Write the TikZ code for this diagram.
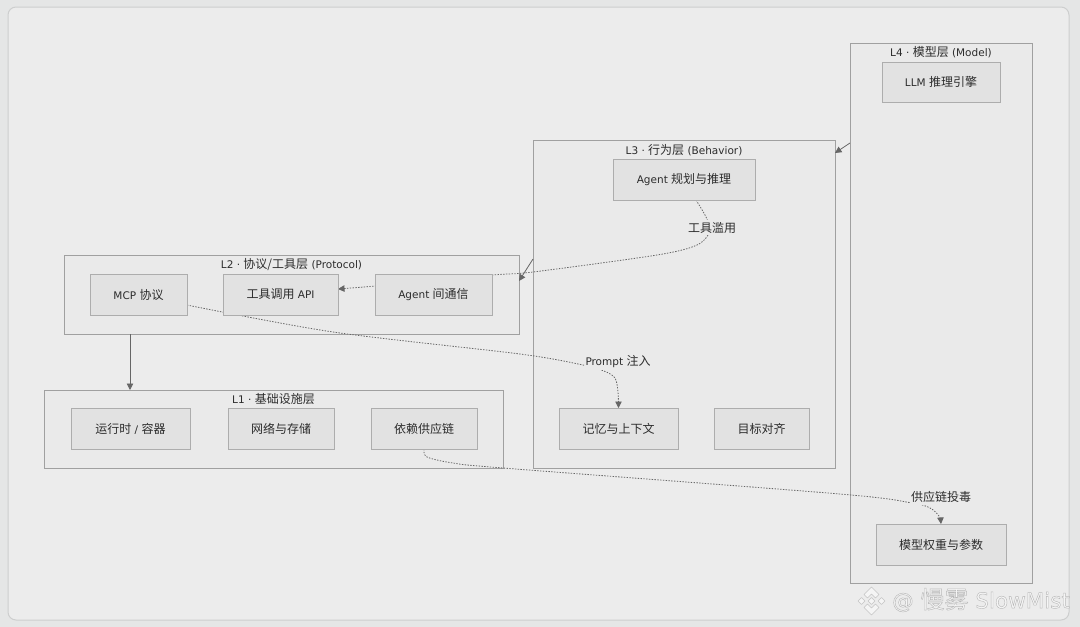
\documentclass[tikz,border=0pt]{standalone}
\usepackage{fontspec}
\setmainfont{DejaVu Sans}
\newfontfamily\cjk{Noto Sans CJK SC}
\newcommand{\zh}[1]{{\cjk\fontsize{12}{12}\selectfont #1}}
\usetikzlibrary{arrows.meta,calc}
\definecolor{pagebg}{HTML}{E5E6E6}
\definecolor{panelbg}{HTML}{ECECEC}
\definecolor{panelln}{HTML}{CDCECE}
\definecolor{clusterbg}{HTML}{EAEAEA}
\definecolor{boxbg}{HTML}{E2E2E2}
\definecolor{lineclr}{HTML}{A0A0A0}
\definecolor{boxln}{HTML}{ADADAD}
\definecolor{txt}{HTML}{2C2C2C}
\definecolor{edgeclr}{HTML}{666666}
\definecolor{wmfill}{HTML}{F5F5F5}
\definecolor{wmedge}{HTML}{C4C4C4}
\pgfdeclarelayer{frames}
\pgfdeclarelayer{edges}
\pgfsetlayers{frames,edges,main}
\tikzset{
  cluster/.style={draw=lineclr,fill=clusterbg,line width=0.9pt,inner sep=0pt,outer sep=0pt},
  item/.style={draw=boxln,fill=boxbg,line width=0.9pt,inner sep=0pt,outer sep=0pt,text=txt,font=\fontsize{10.5}{12}\selectfont,align=center},
  title/.style={text=txt,font=\fontsize{10.5}{12}\selectfont,inner sep=0pt},
  tag/.style={text=txt,fill=clusterbg,font=\fontsize{10.5}{12}\selectfont,inner xsep=1pt,inner ysep=2pt},
  solidedge/.style={draw=edgeclr,line width=0.8pt,-{Triangle[length=6.5pt,width=6.5pt]}},
  dotedge/.style={draw=edgeclr,line width=0.8pt,dash pattern=on 1.4pt off 1.4pt},
  dotarrow/.style={dotedge,-{Triangle[length=6.5pt,width=6.5pt,fill=edgeclr]}},
  wmshape/.style={fill=wmfill,draw=wmedge,line width=0.5pt,line join=round},
}
\begin{document}
\begin{tikzpicture}[x=1pt,y=-1pt]
\useasboundingbox (0,0) rectangle (1080,627);
\begin{pgfonlayer}{frames}
\fill[pagebg] (0,0) rectangle (1080,627);
\draw[panelln,fill=panelbg,line width=1pt,rounded corners=8pt] (8,7) rectangle (1069,620);
\node[cluster,minimum width=182pt,minimum height=540pt] (L4) at (941,313) {};
\node[cluster,minimum width=302pt,minimum height=328pt] (L3) at (684,304) {};
\node[cluster,minimum width=455pt,minimum height=79pt] (L2) at (291.5,294.5) {};
\node[cluster,minimum width=459pt,minimum height=78pt] (L1) at (273.5,429) {};
\end{pgfonlayer}

\node[title] (T4) at (941,52) {L4 · \zh{模型层} (Model)};
\node[title] (T3) at (684,150) {L3 · \zh{行为层} (Behavior)};
\node[title] (T2) at (291.5,265) {L2 · \zh{协议/工具层} (Protocol)};
\node[title] (T1) at (273.5,399) {L1 · \zh{基础设施层}};

% items
\node[item,minimum width=118pt,minimum height=40pt] (llm) at (941,82) {LLM \zh{推理引擎}};
\node[item,minimum width=142pt,minimum height=41pt] (plan) at (684,179.5) {Agent \zh{规划与推理}};
\node[item,minimum width=97pt,minimum height=41pt] (mcp) at (138.5,294.5) {MCP \zh{协议}};
\node[item,minimum width=115pt,minimum height=41pt] (api) at (280.5,294.5) {\zh{工具调用} API};
\node[item,minimum width=117pt,minimum height=41pt] (comm) at (433.5,294.5) {Agent \zh{间通信}};
\node[item,minimum width=119pt,minimum height=41pt] (run) at (130.5,428.5) {\zh{运行时} / \zh{容器}};
\node[item,minimum width=106pt,minimum height=41pt] (net) at (281,428.5) {\zh{网络与存储}};
\node[item,minimum width=106pt,minimum height=41pt] (dep) at (424,428.5) {\zh{依赖供应链}};
\node[item,minimum width=119pt,minimum height=41pt] (mem) at (618.5,428.5) {\zh{记忆与上下文}};
\node[item,minimum width=95pt,minimum height=41pt] (goal) at (761.5,428.5) {\zh{目标对齐}};
\node[item,minimum width=130pt,minimum height=41pt] (weights) at (941,544.5) {\zh{模型权重与参数}};

% edge labels
\node[tag] (lab1) at (712,227.5) {\zh{工具滥用}};
\node[tag] (lab2) at (618,362) {Prompt \zh{注入}};
\node[tag] (lab3) at (941,497) {\zh{供应链投毒}};

\begin{pgfonlayer}{edges}
\draw[dotarrow] plot[smooth,tension=0.5] coordinates {([xshift=12pt]plan.south) (706,217) (710,231) (697,245) (657,255) (533,272) (493,275) (375,286) ([yshift=5.5pt]api.east)};
\draw[dotarrow] plot[smooth,tension=0.5] coordinates {([yshift=-10.5pt]mcp.east) (333,332) (520,354) (583,365) (604,371) (615,378) (618,392) (mem.north)};
\draw[dotarrow] plot[smooth,tension=0.5] coordinates {(dep.south) (427,457) (453,463) (503,468) (840,494) (912,503) (930,508) (939,516) (weights.north)};
\draw[solidedge] ([yshift=170pt]L4.west) -- ([yshift=151pt]L3.east);
\draw[solidedge] ([yshift=45pt]L3.west) -- ([yshift=13.5pt]L2.east);
\draw[solidedge] ([xshift=-161.5pt]L2.south) -- ([xshift=-143.5pt]L1.north);
\end{pgfonlayer}

% watermark
\path[wmshape] (871.5,587) -- (879,594.5) -- (875.5,598) -- (871.5,594) -- (867.5,598) -- (864,594.5) -- cycle;
\path[wmshape] (871.5,615) -- (879,607.5) -- (875.5,604) -- (871.5,608) -- (867.5,604) -- (864,607.5) -- cycle;
\path[wmshape] (858,601) -- (861.5,597.5) -- (865,601) -- (861.5,604.5) -- cycle;
\path[wmshape] (885,601) -- (881.5,597.5) -- (878,601) -- (881.5,604.5) -- cycle;
\path[wmshape] (871.5,597.5) -- (875,601) -- (871.5,604.5) -- (868,601) -- cycle;
\node[anchor=west,inner sep=0pt,font=\fontsize{21.5}{24}\selectfont] (wm) at (892,600) {\special{pdf:code q 0.96 g 0.72 G 0.45 w 2 Tr}@ {\cjk\fontsize{24}{24}\selectfont 慢雾} SlowMist\special{pdf:code Q}};
\end{tikzpicture}
\end{document}
